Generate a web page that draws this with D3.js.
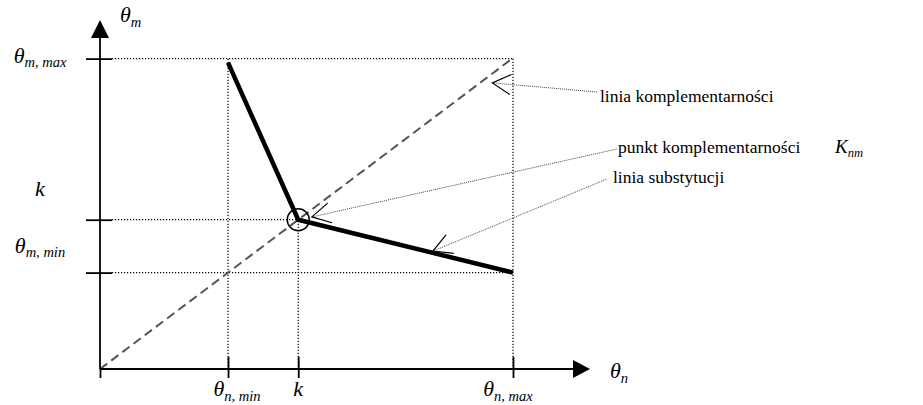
<!DOCTYPE html>
<html><head><meta charset="utf-8">
<script src="https://cdn.jsdelivr.net/npm/d3@7"></script>
<style>body{margin:0;background:#fff} svg{display:block}</style>
</head><body>
<svg id="c" width="923" height="405"></svg>
<script>
// ---- data ----
const xTickValues = [0, 3.1, 4.8, 10];
const xTickLabels = [["", ""], ["θ", "n, min"], ["k", ""], ["θ", "n, max"]];
const yTickValues = [9.98, 4.8, 3.1];
const yTickLabels = [["θ", "m, max"], ["k", ""], ["θ", "m, min"]];
const substitutionLine = [[3.1, 9.85], [4.8, 4.8], [10, 3.1]];
const complementarityLine = [[0, 0], [10, 10]];
const complementarityPoint = [4.8, 4.8];
const calloutTips = [[9.5, 9.2], [5.13, 4.89], [8.06, 3.79]];
const calloutTexts = ["linia komplementarności", "punkt komplementarności", "linia substytucji"];
const axisTitles = [["θ", "m"], ["θ", "n"]];
const pointLabel = ["K", "nm"];

// ---- drawing ----
const FONT = "'Liberation Serif','Times New Roman',serif";
const svg = d3.select("#c");
const x = d3.scaleLinear().domain([0, 10]).range([100, 513]);
const y = d3.scaleLinear().domain([0, 10]).range([369, 58]);
const xAxisEnd = x.invert(590), yAxisEnd = y.invert(20);

function subLabel(px, py, main, sub, size, anchor, subSize) {
  const t = svg.append("text").attr("x", px).attr("y", py)
    .attr("font-family", FONT).attr("text-anchor", anchor || "start").attr("fill", "#000");
  t.append("tspan").attr("font-size", size).attr("font-style", "italic").text(main);
  if (sub) t.append("tspan").attr("font-size", subSize || size * 0.66).attr("font-style", "italic").attr("dy", size * 0.22).text(sub);
  return t;
}

// dotted guide lines
const guide = svg.append("g").attr("stroke", "#000").attr("stroke-width", 1.2).attr("stroke-dasharray", "1.2,1.8").attr("fill", "none");
guide.append("line").attr("x1", x(0) + 12).attr("x2", x(10)).attr("y1", y(yTickValues[0])).attr("y2", y(yTickValues[0]));
guide.append("line").attr("x1", x(0) + 12).attr("x2", x(complementarityPoint[0])).attr("y1", y(yTickValues[1])).attr("y2", y(yTickValues[1]));
guide.append("line").attr("x1", x(0) + 12).attr("x2", x(10)).attr("y1", y(yTickValues[2])).attr("y2", y(yTickValues[2]));
guide.append("line").attr("x1", x(xTickValues[1])).attr("x2", x(xTickValues[1])).attr("y1", y(0)).attr("y2", y(yTickValues[0]));
guide.append("line").attr("x1", x(xTickValues[2])).attr("x2", x(xTickValues[2])).attr("y1", y(0)).attr("y2", y(complementarityPoint[1]));
guide.append("line").attr("x1", x(xTickValues[3])).attr("x2", x(xTickValues[3])).attr("y1", y(0)).attr("y2", y(yTickValues[0]));

// complementarity (dashed) line
const line = d3.line().x(d => x(d[0])).y(d => y(d[1]));
svg.append("path").attr("d", line(complementarityLine)).attr("fill", "none")
  .attr("stroke", "#555").attr("stroke-width", 2).attr("stroke-dasharray", "9,5");

// axes
const gx = svg.append("g").attr("transform", `translate(0,${y(0)})`)
  .call(d3.axisBottom(x).tickValues(xTickValues).tickSize(9).tickFormat(""));
gx.select(".domain").remove();
gx.selectAll(".tick line").attr("y1", d => d === 0 ? 0 : -12).attr("stroke", "#000").attr("stroke-width", 1.8);
const gy = svg.append("g").attr("transform", `translate(${x(0)},0)`)
  .call(d3.axisLeft(y).tickValues(yTickValues).tickSize(14).tickFormat(""));
gy.select(".domain").remove();
gy.selectAll(".tick line").attr("x1", 12).attr("stroke", "#000").attr("stroke-width", 1.8);

svg.append("line").attr("x1", x(0)).attr("x2", x(xAxisEnd) - 12).attr("y1", y(0)).attr("y2", y(0))
  .attr("stroke", "#000").attr("stroke-width", 1.8);
svg.append("line").attr("x1", x(0)).attr("x2", x(0)).attr("y1", y(0)).attr("y2", y(yAxisEnd) + 12)
  .attr("stroke", "#000").attr("stroke-width", 1.8);
svg.append("path").attr("d", `M${x(xAxisEnd)},${y(0)} L${x(xAxisEnd) - 17},${y(0) - 9} L${x(xAxisEnd) - 17},${y(0) + 9} Z`).attr("fill", "#000");
svg.append("path").attr("d", `M${x(0)},${y(yAxisEnd)} L${x(0) - 9},${y(yAxisEnd) + 18} L${x(0) + 9},${y(yAxisEnd) + 18} Z`).attr("fill", "#000");

// substitution (thick) line
svg.append("path").attr("d", line(substitutionLine)).attr("fill", "none")
  .attr("stroke", "#000").attr("stroke-width", 4.5).attr("stroke-linejoin", "miter");

// complementarity point circle
svg.append("circle").attr("cx", x(complementarityPoint[0])).attr("cy", y(complementarityPoint[1])).attr("r", 11)
  .attr("fill", "none").attr("stroke", "#000").attr("stroke-width", 1.5);

// tick labels
const xLabelShift = [0, 9, 0, -5];
xTickLabels.forEach((l, i) => {
  if (!l[0]) return;
  subLabel(x(xTickValues[i]) + xLabelShift[i], 396, l[0], l[1], 22, "middle");
});
const yLabelShift = [4, -24, -20];
yTickLabels.forEach((l, i) => {
  subLabel(40, y(yTickValues[i]) + yLabelShift[i], l[0], l[1], 22, "middle");
});

// axis titles
subLabel(x(0) + 20, y(yAxisEnd) + 2, axisTitles[0][0], axisTitles[0][1], 22, "start");
subLabel(x(xAxisEnd) + 20, y(0) + 9, axisTitles[1][0], axisTitles[1][1], 22, "start");

// callouts
const calloutEnds = [[597, 92], [617, 149], [607, 179]];
const textPos = [[600, 102], [618, 153], [613, 183]];
const cg = svg.append("g");
calloutTips.forEach((tp, i) => {
  const tx = x(tp[0]), ty = y(tp[1]);
  const [ex, ey] = calloutEnds[i];
  cg.append("line").attr("x1", tx).attr("y1", ty).attr("x2", ex).attr("y2", ey)
    .attr("stroke", "#444").attr("stroke-width", 1).attr("stroke-dasharray", "1,1");
  const ang = Math.atan2(ey - ty, ex - tx), L = 21, spread = 0.5;
  const a1 = [tx + L * Math.cos(ang - spread), ty + L * Math.sin(ang - spread)];
  const a2 = [tx + L * Math.cos(ang + spread), ty + L * Math.sin(ang + spread)];
  cg.append("path").attr("d", `M${a1[0]},${a1[1]} L${tx},${ty} L${a2[0]},${a2[1]}`)
    .attr("fill", "none").attr("stroke", "#000").attr("stroke-width", 1.2);
  svg.append("text").attr("x", textPos[i][0]).attr("y", textPos[i][1])
    .attr("font-family", FONT).attr("font-size", 17.5).attr("fill", "#000").text(calloutTexts[i]);
});
subLabel(835, 153, pointLabel[0], pointLabel[1], 19, "start", 12.5);
</script>
</body></html>
